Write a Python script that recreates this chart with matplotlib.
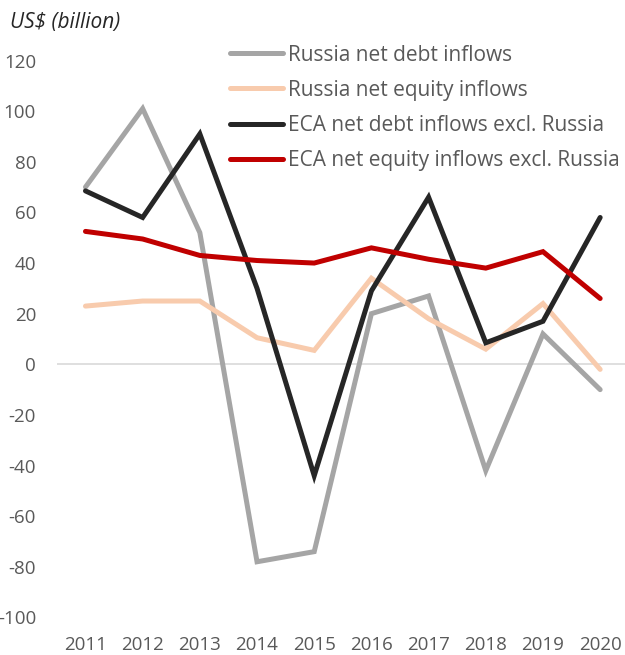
#!/usr/bin/env python3
""" net debt and equity inflows, Russia vs rest of ECA """

import matplotlib.pyplot as plt

years = [2011, 2012, 2013, 2014, 2015, 2016, 2017, 2018, 2019, 2020]
russia_debt = [70, 101, 52, -78, -74, 20, 27, -42, 12, -10]
russia_equity = [23, 25, 25, 10.5, 5.5, 34, 18, 6, 24, -2]
eca_debt = [68.5, 58, 91, 30, -44, 29, 66, 8.5, 17, 58]
eca_equity = [52.5, 49.5, 43, 41, 40, 46, 41.5, 38, 44.5, 26]

series = [
    ("Russia net debt inflows", russia_debt, "#A5A5A5"),
    ("Russia net equity inflows", russia_equity, "#F8CBAD"),
    ("ECA net debt inflows excl. Russia", eca_debt, "#262626"),
    ("ECA net equity inflows excl. Russia", eca_equity, "#C00000"),
]

plt.rcParams['font.family'] = ['Open Sans', 'DejaVu Sans']
plt.rcParams['axes.unicode_minus'] = False

fig = plt.figure(figsize=(6.25, 6.55), dpi=100)
ax = fig.add_axes([0.091, 0.0573, 0.915, 0.8503])

ax.axhline(0, color="#D9D9D9", lw=1.2, zorder=1)
for label, vals, color in series:
    ax.plot(years, vals, color=color, lw=3.6, label=label,
            solid_capstyle="round", solid_joinstyle="miter", zorder=2)

ax.set_xlim(2010.5, 2020.5)
ax.set_ylim(-100, 120)
ax.set_yticks(range(-100, 121, 20))
ax.set_xticks(years)
ax.tick_params(length=0, labelsize=13.5, labelcolor="#595959")
ax.tick_params(axis="x", pad=13)
ax.tick_params(axis="y", pad=15)
for side in ax.spines.values():
    side.set_visible(False)

fig.text(0.016, 0.965, "US$ (billion)", fontsize=15, style="italic",
         color="#262626", va="center")

ax.legend(loc="upper left", bbox_to_anchor=(0.368, 0.932),
          bbox_transform=fig.transFigure, frameon=False, fontsize=15,
          labelcolor="#595959", handlelength=2.55, handletextpad=0.24,
          labelspacing=0.68, borderpad=0, borderaxespad=0)

fig.savefig("out.png", dpi=100)
